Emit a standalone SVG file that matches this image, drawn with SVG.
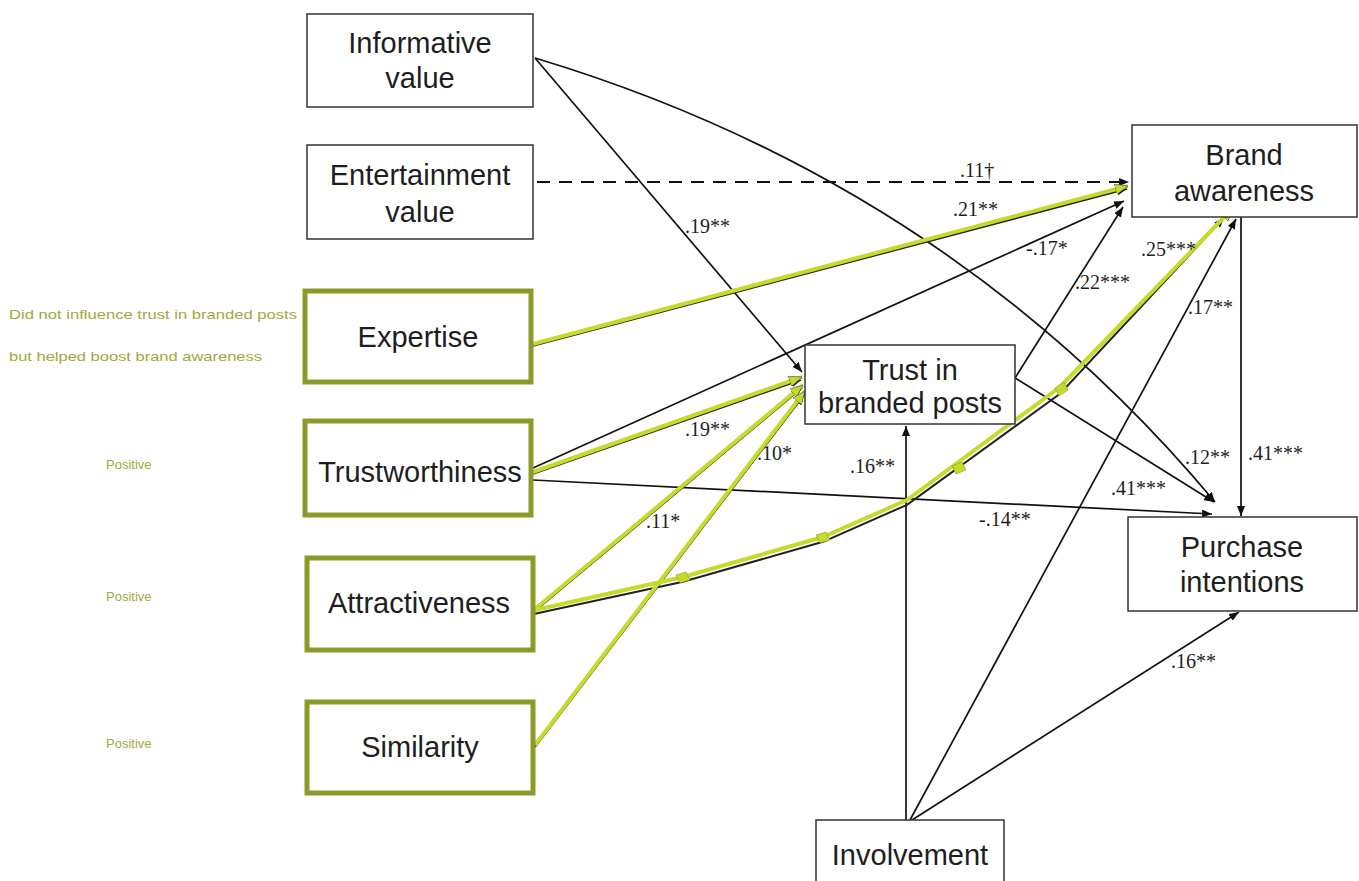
<svg xmlns="http://www.w3.org/2000/svg" width="1359" height="881" viewBox="0 0 1359 881">
<style>
.box{fill:#fff;stroke:#333;stroke-width:1.5}
.gbox{fill:#fff;stroke:#8c9a2a;stroke-width:5}
.t{font-family:"Liberation Sans",Arial,sans-serif;font-size:29px;fill:#1e1e1e;text-anchor:middle}
.lab{font-family:"Liberation Serif","Times New Roman",serif;font-size:20px;fill:#1e1e1e}
.ann{font-family:"Liberation Sans",Arial,sans-serif;font-size:13px;fill:#a2a83c}
.c{fill:none;stroke:#111;stroke-width:1.7;marker-end:url(#ah)}
.d{fill:none;stroke:#111;stroke-width:2;stroke-dasharray:13 9;marker-end:url(#ah)}
.cb{fill:none;stroke:#222;stroke-width:2;marker-end:url(#ah)}
.g{fill:none;stroke:#c6da2c;stroke-width:4;stroke-linejoin:round;marker-end:url(#ag)}
.gm{fill:#c6da2c;stroke:#8c9a2a;stroke-width:0.6}
</style>
<defs>
<marker id="ah" viewBox="0 0 10 8" refX="10" refY="4" markerWidth="10" markerHeight="8" markerUnits="userSpaceOnUse" orient="auto"><path d="M0,0L10,4L0,8z" fill="#111"/></marker>
<marker id="ag" viewBox="0 0 12 10" refX="12" refY="5" markerWidth="13" markerHeight="11" markerUnits="userSpaceOnUse" orient="auto"><path d="M0,0L12,5L0,10z" fill="#c6da2c" stroke="#555" stroke-width="0.6"/></marker>
</defs>
<rect width="1359" height="881" fill="#fff"/>

<g id="annotations">
<text class="ann" x="9" y="319" textLength="288" lengthAdjust="spacingAndGlyphs">Did not influence trust in branded posts</text>
<text class="ann" x="9" y="361" textLength="253" lengthAdjust="spacingAndGlyphs">but helped boost brand awareness</text>
<text class="ann" x="106" y="469">Positive</text>
<text class="ann" x="106" y="601">Positive</text>
<text class="ann" x="106" y="748">Positive</text>
</g>

<g id="connectors">
<path class="c" d="M535,58 L802,372"/>
<path class="c" d="M535,58 Q948,182 1215,502"/>
<path class="d" d="M537,182 L1129,182"/>
<path class="c" d="M533,468 L1124,201"/>
<path class="c" d="M533,480 L1212,514"/>
<path class="c" d="M906,820 L906,426"/>
<path class="c" d="M910,820 L1236,219"/>
<path class="c" d="M912,820 L1239,612"/>
<path class="c" d="M1241,217 L1241,516"/>
<path class="c" d="M1015,378 L1123,207"/>
<path class="c" d="M1015,378 L1214,502"/>
<g transform="translate(0,1.8)">
<path class="cb" d="M533,344 L1127,187"/>
<path class="cb" d="M533,472 L801,378"/>
<path class="cb" d="M535,609 L802,386"/>
<path class="cb" d="M535,745 L804,393"/>
<path class="cb" d="M535,612 L683,580 L823,540 L907,503 L1060,392 L1224,216"/>
</g>
<path class="g" d="M533,344 L1128,186"/>
<path class="g" d="M533,472 L802,377"/>
<path class="g" d="M535,609 L803,385"/>
<path class="g" d="M535,745 L805,391"/>
<path class="g" d="M535,610 L683,577 L823,537 L907,500 L1060,387 L1233,208"/>
<path class="gm" d="M676,575 L686,572 L690,580 L680,583z"/>
<path class="gm" d="M816,535 L826,532 L830,540 L820,543z"/>
<path class="gm" d="M952,466 L962,462 L966,470 L956,474z"/>
<path class="gm" d="M1055,388 L1064,382 L1068,390 L1059,396z"/>
<text class="lab" x="685" y="233">.19**</text>
<text class="lab" x="960" y="177">.11†</text>
<text class="lab" x="953" y="216">.21**</text>
<text class="lab" x="1026" y="255">-.17*</text>
<text class="lab" x="1075" y="289">.22***</text>
<text class="lab" x="1141" y="256">.25***</text>
<text class="lab" x="1188" y="314">.17**</text>
<text class="lab" x="685" y="436">.19**</text>
<text class="lab" x="757" y="460">.10*</text>
<text class="lab" x="646" y="528">.11*</text>
<text class="lab" x="850" y="473">.16**</text>
<text class="lab" x="1111" y="495">.41***</text>
<text class="lab" x="1185" y="464">.12**</text>
<text class="lab" x="1248" y="460">.41***</text>
<text class="lab" x="979" y="526">-.14**</text>
<text class="lab" x="1171" y="668">.16**</text>
</g>

<g id="informative">
<rect class="box" x="307" y="14" width="226" height="93"/>
<text class="t" x="420" y="53">Informative</text>
<text class="t" x="420" y="88">value</text>
</g>
<g id="entertainment">
<rect class="box" x="307" y="145" width="226" height="94"/>
<text class="t" x="420" y="185">Entertainment</text>
<text class="t" x="420" y="222">value</text>
</g>
<g id="expertise">
<rect class="gbox" x="305" y="291" width="226" height="91"/>
<text class="t" x="418" y="347">Expertise</text>
</g>
<g id="trustworthiness">
<rect class="gbox" x="305" y="421" width="226" height="94"/>
<text class="t" x="420" y="482">Trustworthiness</text>
</g>
<g id="attractiveness">
<rect class="gbox" x="307" y="558" width="226" height="92"/>
<text class="t" x="419" y="613">Attractiveness</text>
</g>
<g id="similarity">
<rect class="gbox" x="307" y="702" width="226" height="91"/>
<text class="t" x="420" y="757">Similarity</text>
</g>
<g id="trust">
<rect class="box" x="805" y="345" width="210" height="79"/>
<text class="t" x="910" y="380">Trust in</text>
<text class="t" x="910" y="413">branded posts</text>
</g>
<g id="brand">
<rect class="box" x="1132" y="125" width="225" height="92"/>
<text class="t" x="1244" y="165">Brand</text>
<text class="t" x="1244" y="201">awareness</text>
</g>
<g id="purchase">
<rect class="box" x="1128" y="517" width="229" height="94"/>
<text class="t" x="1242" y="557">Purchase</text>
<text class="t" x="1242" y="592">intentions</text>
</g>
<g id="involvement">
<rect class="box" x="816" y="820" width="188" height="80"/>
<text class="t" x="910" y="865">Involvement</text>
</g>
</svg>
